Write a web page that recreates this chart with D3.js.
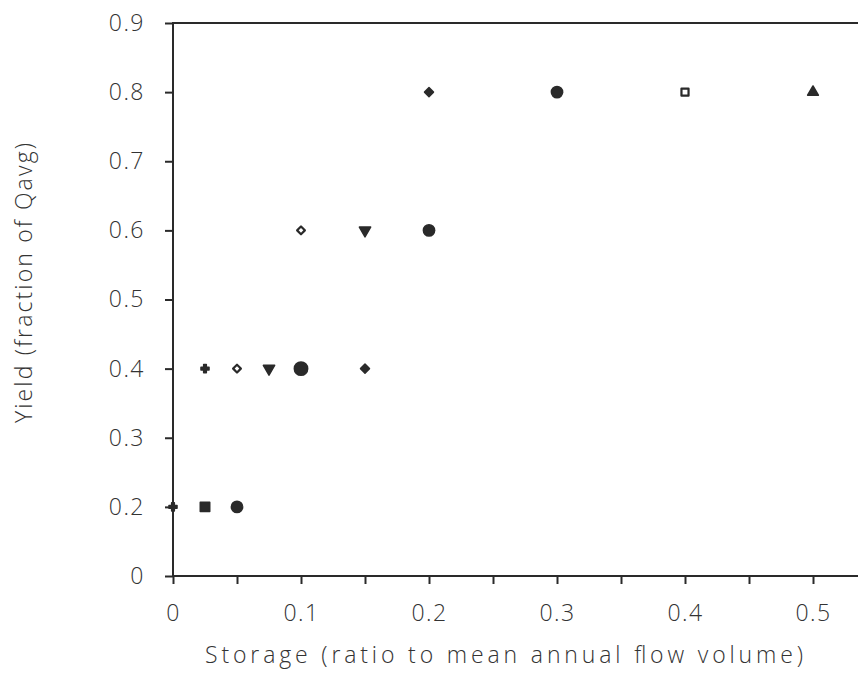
<!DOCTYPE html>
<html>
<head>
<meta charset="utf-8">
<script src="https://cdn.jsdelivr.net/npm/d3@7"></script>
<style>
  body { margin: 0; background: #fff; }
  text { font-family: "Open Sans", "DejaVu Sans", sans-serif; font-weight: 300; fill: #333; }
</style>
</head>
<body>
<svg id="chart" width="858" height="673"></svg>
<script>
// values
var storage    = [0, 0.025, 0.05, 0.025, 0.05, 0.075, 0.1, 0.15, 0.1, 0.15, 0.2, 0.2, 0.3, 0.4, 0.5]
var yieldFrac  = [0.2, 0.2, 0.2, 0.4, 0.4, 0.4, 0.4, 0.4, 0.6, 0.6, 0.6, 0.8, 0.8, 0.8, 0.8]
var markerKind = ["plus", "square", "circle", "plus", "openDiamond", "triDown", "bigCircle", "diamond",
                  "openDiamond", "triDown", "circle", "diamond", "circle", "openSquare", "triUp"]

var xTickValues = [0, 0.05, 0.1, 0.15, 0.2, 0.25, 0.3, 0.35, 0.4, 0.45, 0.5]
var xTickLabels = {0: "0", 0.1: "0.1", 0.2: "0.2", 0.3: "0.3", 0.4: "0.4", 0.5: "0.5"}
// the bottom of the y axis is 0.1 but is labelled "0" in the original
var yTickValues = [0.1, 0.2, 0.3, 0.4, 0.5, 0.6, 0.7, 0.8, 0.9]
var yTickLabels = ["0", "0.2", "0.3", "0.4", "0.5", "0.6", "0.7", "0.8", "0.9"]

var xTitle = "Storage (ratio to mean annual flow volume)"
var yTitle = "Yield (fraction of Qavg)"

var svg = d3.select("#chart")

var x = d3.scaleLinear().domain([0, 0.55]).range([173, 877])
var y = d3.scaleLinear().domain([0.1, 0.9]).range([576, 23])

var ink = "#2a2a2a"

// frame (right side runs off the picture)
svg.append("rect")
  .attr("x", x(0)).attr("y", y(0.9))
  .attr("width", x(0.55) - x(0)).attr("height", y(0.1) - y(0.9))
  .attr("fill", "none").attr("stroke", ink).attr("stroke-width", 2)

var xAxis = d3.axisBottom(x)
  .tickValues(xTickValues)
  .tickSize(8)
  .tickFormat(function(d){ return xTickLabels[d] || "" })

var gx = svg.append("g")
  .attr("transform", "translate(0," + y(0.1) + ")")
  .call(xAxis)
gx.select(".domain").remove()
gx.selectAll(".tick line").attr("stroke", ink).attr("stroke-width", 2)
gx.selectAll(".tick text")
  .attr("y", 37).attr("dy", "0.35em")
  .style("font-size", "23px").attr("fill", "#333")
  .attr("letter-spacing", "1.5px")

var yAxis = d3.axisLeft(y)
  .tickValues(yTickValues)
  .tickSize(8)
  .tickFormat(function(d, i){ return yTickLabels[i] })

var gy = svg.append("g")
  .attr("transform", "translate(" + x(0) + ",0)")
  .call(yAxis)
gy.select(".domain").remove()
gy.selectAll(".tick line").attr("stroke", ink).attr("stroke-width", 2)
gy.selectAll(".tick text")
  .attr("x", -28)
  .style("font-size", "23px").attr("fill", "#333")
  .attr("letter-spacing", "1.5px")

// axis titles
svg.append("text")
  .attr("x", 504).attr("y", 663)
  .attr("text-anchor", "middle")
  .attr("textLength", 598).attr("lengthAdjust", "spacing")
  .style("font-size", "23px")
  .text(xTitle)

svg.append("text")
  .attr("transform", "translate(32,283) rotate(-90)")
  .attr("text-anchor", "middle")
  .attr("textLength", 280).attr("lengthAdjust", "spacing")
  .style("font-size", "23px")
  .text(yTitle)

// markers
var markerStyle = {
  plus:        {type: d3.symbolCross,    size: 36,  fill: ink,    rot: 0},
  square:      {type: d3.symbolSquare,   size: 90,  fill: ink,    rot: 0},
  circle:      {type: d3.symbolCircle,   size: 100, fill: ink,    rot: 0},
  bigCircle:   {type: d3.symbolCircle,   size: 140, fill: ink,    rot: 0},
  diamond:     {type: d3.symbolSquare,   size: 40,  fill: ink,    rot: 45},
  openDiamond: {type: d3.symbolSquare,   size: 30,  fill: "none", rot: 45},
  openSquare:  {type: d3.symbolSquare,   size: 50,  fill: "none", rot: 0},
  triDown:     {type: d3.symbolTriangle, size: 55,  fill: ink,    rot: 180},
  triUp:       {type: d3.symbolTriangle, size: 50,  fill: ink,    rot: 0}
}

var points = storage.map(function(s, i){
  return {s: s, q: yieldFrac[i], kind: markerKind[i]}
})

svg.append("g").selectAll("path")
  .data(points)
  .enter()
  .append("path")
  .attr("d", function(d){
    var m = markerStyle[d.kind]
    return d3.symbol().type(m.type).size(m.size)()
  })
  .attr("transform", function(d){
    return "translate(" + x(d.s) + "," + y(d.q) + ") rotate(" + markerStyle[d.kind].rot + ")"
  })
  .attr("fill", function(d){ return markerStyle[d.kind].fill })
  .attr("stroke", ink)
  .attr("stroke-width", function(d){ return markerStyle[d.kind].fill == "none" ? 2.2 : 1.5 })
  .attr("stroke-linejoin", "round")
</script>
</body>
</html>
